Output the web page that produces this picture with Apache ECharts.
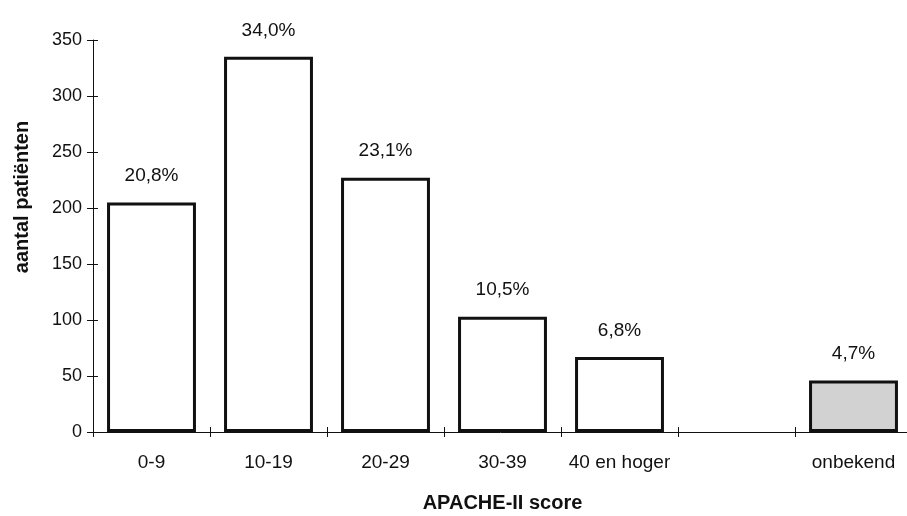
<!DOCTYPE html>
<html>
<head>
<meta charset="utf-8">
<script src="https://cdn.jsdelivr.net/npm/echarts@6/dist/echarts.min.js"></script>
<style>
  html, body { margin: 0; padding: 0; background: #fff; }
  #chart { width: 907px; height: 516px; }
</style>
</head>
<body>
<div id="chart"></div>
<script>
// APACHE-II score groups (one empty slot before "onbekend")
const categories = ['0-9', '10-19', '20-29', '30-39', '40 en hoger', '', 'onbekend'];
// number of patients per group
const patients = [205, 335, 227, 103, 67, null, 46];
// share of all patients, as printed above each bar
const shares = ['20,8%', '34,0%', '23,1%', '10,5%', '6,8%', '', '4,7%'];
const yTicks = { min: 0, max: 350, step: 50 };

const FONT = '"Liberation Sans", Arial, sans-serif';

const chart = echarts.init(document.getElementById('chart'), null, { renderer: 'canvas' });

const barData = patients.map((v, i) => ({
  value: v,
  itemStyle: i === 6 ? { color: '#d2d2d2' } : undefined
}));

const baseY = {
  type: 'value',
  min: yTicks.min,
  max: yTicks.max,
  interval: yTicks.step,
  position: 'left',
  splitLine: { show: false },
  axisLine: { show: true, lineStyle: { color: '#111', width: 1 } }
};

chart.setOption({
  animation: false,
  backgroundColor: '#fff',
  grid: { left: 93, right: -5, top: 40, bottom: 84, containLabel: false, outerBoundsMode: 'none' },
  xAxis: [
    {
      type: 'category',
      data: categories,
      position: 'bottom',
      axisLine: { show: true, onZero: false, lineStyle: { color: '#111', width: 1 } },
      axisTick: { show: true, alignWithLabel: false, length: 5, lineStyle: { color: '#111' } },
      axisLabel: { margin: 21, color: '#111', fontFamily: FONT, fontSize: 19, interval: 0 },
      name: 'APACHE-II score',
      nameLocation: 'middle',
      nameGap: 61,
      nameTextStyle: { color: '#111', fontFamily: FONT, fontSize: 20, fontWeight: 'bold' }
    },
    {
      type: 'category',
      data: categories,
      position: 'bottom',
      axisLine: { show: false },
      axisTick: { show: true, inside: true, length: 5, lineStyle: { color: '#111' } },
      axisLabel: { show: false }
    }
  ],
  yAxis: [
    Object.assign({}, baseY, {
      axisTick: { show: true, length: 6, lineStyle: { color: '#111' } },
      axisLabel: { margin: 11, color: '#111', fontFamily: FONT, fontSize: 18 },
      name: 'aantal patiënten',
      nameLocation: 'middle',
      nameGap: 61,
      nameRotate: 90,
      nameTextStyle: { color: '#111', fontFamily: FONT, fontSize: 20, fontWeight: 'bold', padding: [0, 0, 0, 78] }
    }),
    Object.assign({}, baseY, {
      axisLine: { show: false },
      axisTick: { show: true, inside: true, length: 5, lineStyle: { color: '#111' } },
      axisLabel: { show: false }
    })
  ],
  series: [{
    type: 'bar',
    xAxisIndex: 0,
    yAxisIndex: 0,
    data: barData,
    barWidth: '76%',
    itemStyle: { color: '#fff', borderColor: '#111', borderWidth: 3 },
    label: {
      show: true,
      position: 'top',
      distance: 17,
      color: '#111',
      fontFamily: FONT,
      fontSize: 19,
      formatter: p => shares[p.dataIndex]
    }
  }]
});
</script>
</body>
</html>
